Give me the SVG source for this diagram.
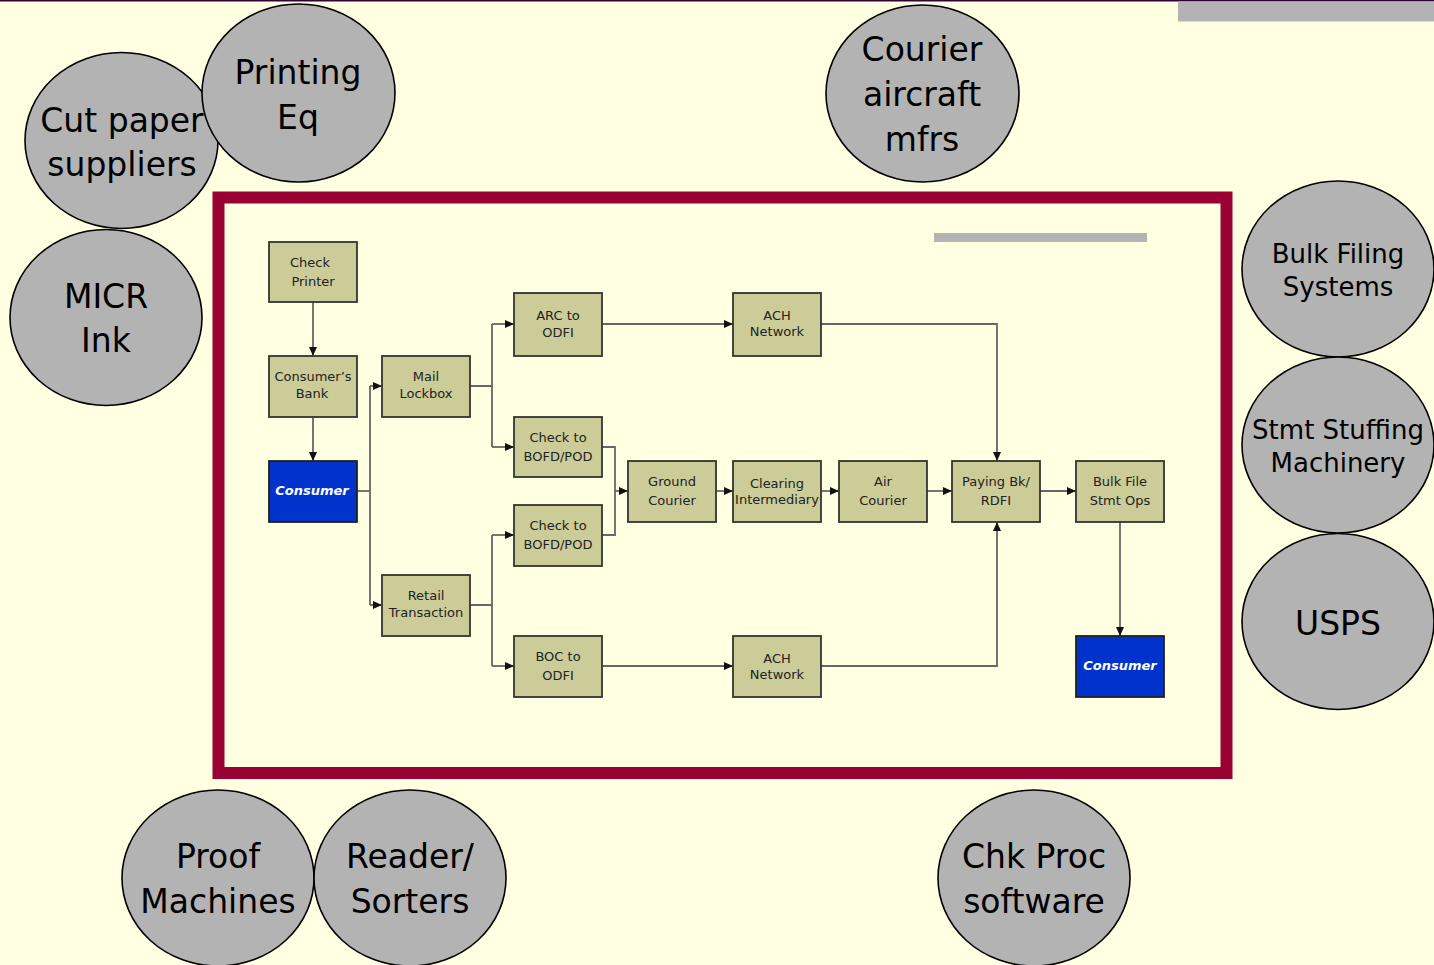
<svg xmlns="http://www.w3.org/2000/svg" width="1434" height="965" viewBox="0 0 1434 965">
<defs>
<style>
.bg{fill:#FFFFE1}
.c{fill:#B3B3B3;stroke:#000;stroke-width:1.6}
.ct{font-family:"DejaVu Sans",sans-serif;font-size:33px;fill:#000;text-anchor:middle}
.b{fill:#CCCC99;stroke:#333;stroke-width:1.8}
.bb{fill:#0033CC;stroke:#222;stroke-width:1.8}
.bt{font-family:"DejaVu Sans",sans-serif;font-size:13px;fill:#222;text-anchor:middle}
.wt{font-family:"DejaVu Sans",sans-serif;font-size:13px;font-weight:bold;font-style:italic;fill:#fff;text-anchor:middle}
.ln{fill:none;stroke:#666;stroke-width:1.8}
.ar{fill:none;stroke:#666;stroke-width:1.8;marker-end:url(#ah)}
</style>
<marker id="ah" markerUnits="userSpaceOnUse" markerWidth="10" markerHeight="10" refX="9" refY="4" orient="auto">
<path d="M0,0 L9,4 L0,8 Z" fill="#111"/>
</marker>
</defs>
<rect class="bg" x="0" y="0" width="1434" height="965"/>
<rect x="0" y="0" width="1434" height="1.5" fill="#330033"/>
<rect x="1178" y="1.5" width="256" height="20" fill="#B3B3B3"/>

<rect x="218.5" y="197.5" width="1008" height="575.5" fill="none" stroke="#990033" stroke-width="12"/>
<rect x="934" y="233" width="213" height="9" fill="#B3B3B3"/>

<g id="connectors">
<path class="ar" d="M313,302 V356"/>
<path class="ar" d="M313,417 V461"/>
<path class="ln" d="M357,491 H370"/>
<path class="ar" d="M370,386 V386 H382"/>
<path class="ln" d="M370,386 V605"/>
<path class="ar" d="M370,605 H382"/>
<path class="ln" d="M470,386 H492 M492,324 V447"/>
<path class="ar" d="M492,324 H514"/>
<path class="ar" d="M492,447 H514"/>
<path class="ln" d="M470,605 H492 M492,535 V666"/>
<path class="ar" d="M492,535 H514"/>
<path class="ar" d="M492,666 H514"/>
<path class="ln" d="M602,447 H615 V535 H602"/>
<path class="ar" d="M615,491 H628"/>
<path class="ar" d="M602,324 H733"/>
<path class="ar" d="M821,324 H997 V461"/>
<path class="ar" d="M716,491 H733"/>
<path class="ar" d="M821,491 H839"/>
<path class="ar" d="M927,491 H952"/>
<path class="ar" d="M1040,491 H1076"/>
<path class="ar" d="M602,666 H733"/>
<path class="ar" d="M821,666 H997 V522"/>
<path class="ar" d="M1120,522 V636"/>
</g>

<g id="check-printer"><rect class="b" x="269" y="242" width="88" height="60"/><text class="bt" x="310" y="267">Check</text><text class="bt" x="313" y="286">Printer</text></g>
<g id="consumers-bank"><rect class="b" x="269" y="356" width="88" height="61"/><text class="bt" x="313" y="381">Consumer’s</text><text class="bt" x="312" y="398">Bank</text></g>
<g id="consumer-1"><rect class="bb" x="269" y="461" width="88" height="61"/><text class="wt" x="312" y="495">Consumer</text></g>
<g id="mail-lockbox"><rect class="b" x="382" y="356" width="88" height="61"/><text class="bt" x="426" y="381">Mail</text><text class="bt" x="426" y="398">Lockbox</text></g>
<g id="retail-transaction"><rect class="b" x="382" y="575" width="88" height="61"/><text class="bt" x="426" y="600">Retail</text><text class="bt" x="426" y="617">Transaction</text></g>
<g id="arc-odfi"><rect class="b" x="514" y="293" width="88" height="63"/><text class="bt" x="558" y="320">ARC to</text><text class="bt" x="558" y="337">ODFI</text></g>
<g id="check-bofd-1"><rect class="b" x="514" y="417" width="88" height="60"/><text class="bt" x="558" y="442">Check to</text><text class="bt" x="558" y="461">BOFD/POD</text></g>
<g id="check-bofd-2"><rect class="b" x="514" y="505" width="88" height="61"/><text class="bt" x="558" y="530">Check to</text><text class="bt" x="558" y="549">BOFD/POD</text></g>
<g id="boc-odfi"><rect class="b" x="514" y="636" width="88" height="61"/><text class="bt" x="558" y="661">BOC to</text><text class="bt" x="558" y="680">ODFI</text></g>
<g id="ach-top"><rect class="b" x="733" y="293" width="88" height="63"/><text class="bt" x="777" y="320">ACH</text><text class="bt" x="777" y="336">Network</text></g>
<g id="ach-bottom"><rect class="b" x="733" y="636" width="88" height="61"/><text class="bt" x="777" y="663">ACH</text><text class="bt" x="777" y="679">Network</text></g>
<g id="ground-courier"><rect class="b" x="628" y="461" width="88" height="61"/><text class="bt" x="672" y="486">Ground</text><text class="bt" x="672" y="505">Courier</text></g>
<g id="clearing-intermediary"><rect class="b" x="733" y="461" width="88" height="61"/><text class="bt" x="777" y="488">Clearing</text><text class="bt" x="777" y="504">Intermediary</text></g>
<g id="air-courier"><rect class="b" x="839" y="461" width="88" height="61"/><text class="bt" x="883" y="486">Air</text><text class="bt" x="883" y="505">Courier</text></g>
<g id="paying-bk"><rect class="b" x="952" y="461" width="88" height="61"/><text class="bt" x="996" y="486">Paying Bk/</text><text class="bt" x="996" y="505">RDFI</text></g>
<g id="bulk-file"><rect class="b" x="1076" y="461" width="88" height="61"/><text class="bt" x="1120" y="486">Bulk File</text><text class="bt" x="1120" y="505">Stmt Ops</text></g>
<g id="consumer-2"><rect class="bb" x="1076" y="636" width="88" height="61"/><text class="wt" x="1120" y="670">Consumer</text></g>

<g id="micr-ink"><ellipse class="c" cx="106" cy="317.5" rx="96" ry="88"/><text class="ct" x="106" y="308">MICR</text><text class="ct" x="106" y="352">Ink</text></g>
<g id="cut-paper"><ellipse class="c" cx="121.5" cy="140.5" rx="96.5" ry="88"/></g>
<g id="printing-eq"><ellipse class="c" cx="298.5" cy="93" rx="96.5" ry="89"/><text class="ct" x="298" y="84">Printing</text><text class="ct" x="298" y="129">Eq</text></g>
<g id="cut-paper-text"><text class="ct" x="122" y="132">Cut paper</text><text class="ct" x="122" y="176">suppliers</text></g>
<g id="courier-aircraft"><ellipse class="c" cx="922.5" cy="93.5" rx="96.5" ry="88.5"/><text class="ct" x="922" y="61">Courier</text><text class="ct" x="922" y="106">aircraft</text><text class="ct" x="922" y="151">mfrs</text></g>
<g id="bulk-filing"><ellipse class="c" cx="1338" cy="269" rx="96" ry="88"/><text class="ct" style="font-size:26px" x="1338" y="263">Bulk Filing</text><text class="ct" style="font-size:26px" x="1338" y="296">Systems</text></g>
<g id="stmt-stuffing"><ellipse class="c" cx="1338" cy="445" rx="96" ry="88"/><text class="ct" style="font-size:26px" x="1338" y="439">Stmt Stuffing</text><text class="ct" style="font-size:26px" x="1338" y="472">Machinery</text></g>
<g id="usps"><ellipse class="c" cx="1338" cy="621.5" rx="96" ry="88"/><text class="ct" x="1338" y="635">USPS</text></g>
<g id="proof-machines"><ellipse class="c" cx="218" cy="878" rx="96" ry="88"/><text class="ct" x="218" y="868">Proof</text><text class="ct" x="218" y="913">Machines</text></g>
<g id="reader-sorters"><ellipse class="c" cx="410" cy="878" rx="96" ry="88"/><text class="ct" x="410" y="868">Reader/</text><text class="ct" x="410" y="913">Sorters</text></g>
<g id="chk-proc"><ellipse class="c" cx="1034" cy="878" rx="96" ry="88"/><text class="ct" x="1034" y="868">Chk Proc</text><text class="ct" x="1034" y="913">software</text></g>
</svg>
